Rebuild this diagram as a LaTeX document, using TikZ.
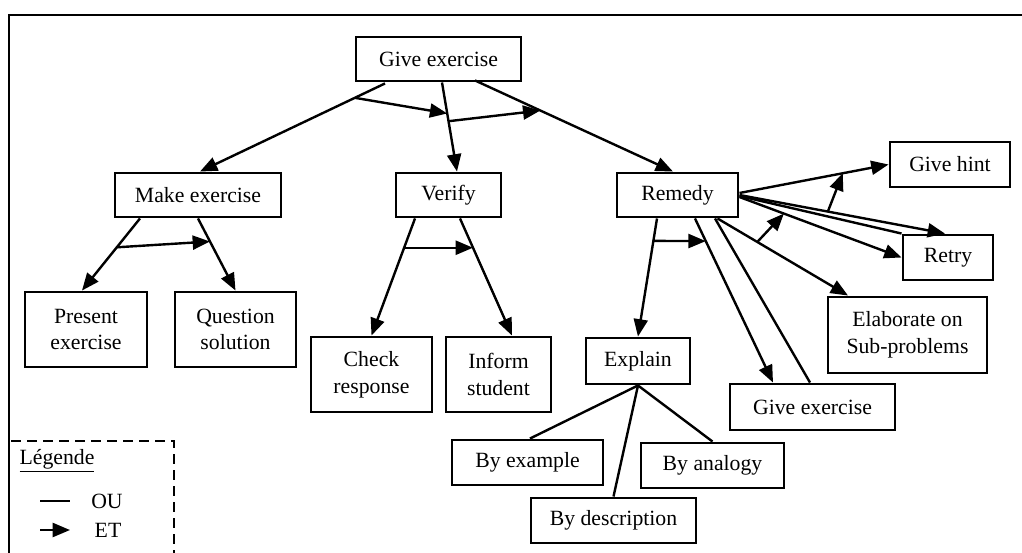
\documentclass[tikz,border=0pt]{standalone}
\usepackage{fontspec}
\setmainfont{Liberation Serif}
\usetikzlibrary{arrows.meta,calc}
\begin{document}
\begin{tikzpicture}[x=0.75pt,y=-0.75pt,
  txt/.style={font=\fontsize{16.3}{20}\selectfont},
  box/.style={txt, draw, line width=2.2pt, inner sep=0pt, align=center},
  conn/.style={line width=1.8pt},
  arr/.style={conn, -{Triangle[length=13pt,width=10.5pt]}},
]
\useasboundingbox (0,0) rectangle (1022,553);

% frame
\draw[line width=1.9pt] (9,553) -- (9,15) -- (1022,15);

% boxes
\node[box, minimum width=123.75pt, minimum height=33pt] (g1) at (438.5,59) {Give exercise};
\node[box, minimum width=124.5pt, minimum height=33pt] (make) at (198,195) {Make exercise};
\node[box, minimum width=78.75pt, minimum height=33pt] (verify) at (448.5,195) {Verify};
\node[box, minimum width=90.75pt, minimum height=33pt] (remedy) at (677.5,195) {Remedy};
\node[box, minimum width=90pt, minimum height=33.75pt] (hint) at (950,164.5) {Give hint};
\node[box, minimum width=67.5pt, minimum height=33.75pt] (retry) at (948,257.5) {Retry};
\node[box, minimum width=119.25pt, minimum height=57pt] (elab) at (907.5,335) {Elaborate on\\Sub-problems};
\node[box, minimum width=123.75pt, minimum height=34.5pt] (g2) at (812.5,407) {Give exercise};
\node[box, minimum width=78pt, minimum height=34.5pt] (explain) at (638,361) {Explain};
\node[box, minimum width=91.5pt, minimum height=56.25pt] (present) at (86,329.5) {Present\\exercise};
\node[box, minimum width=90.75pt, minimum height=56.25pt] (question) at (235.5,329.5) {Question\\solution};
\node[box, minimum width=90.75pt, minimum height=56.25pt] (check) at (371.5,374.5) {Check\\response};
\node[box, minimum width=78.75pt, minimum height=56.25pt] (inform) at (498.5,374.5) {Inform\\student};
\node[box, minimum width=113.25pt, minimum height=33.75pt] (byex) at (527.5,462.5) {By example};
\node[box, minimum width=107.25pt, minimum height=33.75pt] (byan) at (712.5,465.5) {By analogy};
\node[box, minimum width=123.75pt, minimum height=33.75pt] (bydesc) at (613.5,520.5) {By description};

% Give exercise
\draw[arr] ($(g1.south)+(-53.5,1)$) -- coordinate[pos=0.163] (e1a) ($(make.north)+(2,0)$);
\draw[arr] ($(g1.south)+(3.5,0)$) -- coordinate[pos=0.348] (e1b) coordinate[pos=0.435] (e2a) ($(verify.north)+(8.5,0)$);
\draw[arr] ($(g1.south)+(36.5,-2)$) -- coordinate[pos=0.33] (e2b) ($(remedy.north)+(-4.5,0)$);
\draw[arr] (e1a) -- (e1b);
\draw[arr] (e2a) -- (e2b);

% Make exercise
\draw[arr] ($(make.south)+(-58,0)$) -- coordinate[pos=0.4] (e3a) ($(present.north)+(-4,0)$);
\draw[arr] (make.south) -- coordinate[pos=0.32] (e3b) (question.north);
\draw[arr] (e3a) -- (e3b);

% Verify
\draw[arr] ($(verify.south)+(-33.5,0)$) -- coordinate[pos=0.25] (e4a) (check.north);
\draw[arr] ($(verify.south)+(11.5,0)$) -- coordinate[pos=0.25] (e4b) ($(inform.north)+(13.5,0)$);
\draw[arr] (e4a) -- (e4b);

% Remedy
\draw[arr] ($(remedy.south)+(-20.5,0)$) -- coordinate[pos=0.19] (e5a) (explain.north);
\draw[arr] ($(remedy.south)+(17.5,0)$) -- coordinate[pos=0.138] (e5b) ($(g2.north)+(-39.5,0)$);
\draw[conn] ($(remedy.south)+(37.5,0)$) -- ($(g2.north)+(-2.5,0)$);
\draw[arr] ($(remedy.south)+(40,0)$) -- coordinate[pos=0.305] (e6a) ($(elab.north)+(-59.5,0)$);
\draw[arr] ($(remedy.east)+(0,-2)$) -- coordinate[pos=0.693] (e7b) (hint.west);
\draw[arr] (remedy.east) -- coordinate[pos=0.43] (e7a) ($(retry.north)+(-3,0)$);
\draw[conn] ($(remedy.east)+(0,1)$) -- (retry.north west);
\draw[arr] ($(remedy.east)+(0,2)$) -- coordinate[pos=0.274] (e6b) (retry.west);
\draw[arr] (e5a) -- (e5b);
\draw[arr] (e6a) -- (e6b);
\draw[arr] (e7a) -- (e7b);

% Explain
\draw[conn] (explain.south) -- ($(byex.north)+(2.5,0)$);
\draw[conn] (explain.south) -- (bydesc.north);
\draw[conn] (explain.south) -- (byan.north);

% legend
\draw[line width=1.9pt, dash pattern=on 7.5pt off 4.5pt] (11,441) -- (174,441) -- (174,553);
\node[txt] (leg) at (57,461) {\underline{Légende}};
\coordinate (oua) at (40,501);
\coordinate (oub) at (70,501);
\draw[conn] (oua) -- (oub);
\node[txt] (ou) at (107,501) {OU};
\coordinate (eta) at (40,530);
\coordinate (etb) at (70,530);
\draw[arr] (eta) -- (etb);
\node[txt] (et) at (108,530) {ET};
\end{tikzpicture}
\end{document}
